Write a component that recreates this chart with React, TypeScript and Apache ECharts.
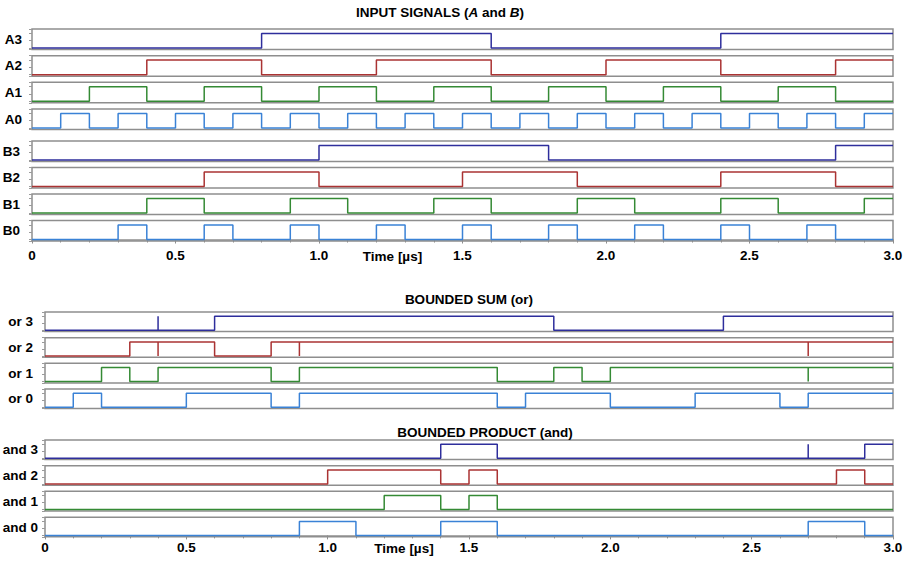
import React, { useEffect, useRef } from 'react';
import * as echarts from 'echarts';

// time step of the simulation (µs) and the tick labels
const STEP = 0.1;
const X_TICKS = [0, 0.5, 1.0, 1.5, 2.0, 2.5, 3.0];

// ---- input signals (one value per 0.1 µs step) ----
const A3 = [0,0,0,0,0,0,0,0,1,1,1,1,1,1,1,1,0,0,0,0,0,0,0,0,1,1,1,1,1,1];
const A2 = [0,0,0,0,1,1,1,1,0,0,0,0,1,1,1,1,0,0,0,0,1,1,1,1,0,0,0,0,1,1];
const A1 = [0,0,1,1,0,0,1,1,0,0,1,1,0,0,1,1,0,0,1,1,0,0,1,1,0,0,1,1,0,0];
const A0 = [0,1,0,1,0,1,0,1,0,1,0,1,0,1,0,1,0,1,0,1,0,1,0,1,0,1,0,1,0,1];
const B3 = [0,0,0,0,0,0,0,0,0,0,1,1,1,1,1,1,1,1,0,0,0,0,0,0,0,0,0,0,1,1];
const B2 = [0,0,0,0,0,0,1,1,1,1,0,0,0,0,0,1,1,1,1,0,0,0,0,0,1,1,1,1,0,0];
const B1 = [0,0,0,0,1,1,0,0,0,1,1,0,0,0,1,1,0,0,0,1,1,0,0,0,1,1,0,0,0,1];
const B0 = [0,0,0,1,0,0,1,0,0,1,0,0,1,0,0,1,0,0,1,0,0,1,0,0,1,0,0,1,0,0];

// ---- bounded sum (or) ----
const OR3 = [0,0,0,0,0,0,1,1,1,1,1,1,1,1,1,1,1,1,0,0,0,0,0,0,1,1,1,1,1,1];
const OR2 = [0,0,0,1,1,1,0,0,1,1,1,1,1,1,1,1,1,1,1,1,1,1,1,1,1,1,1,1,1,1];
const OR1 = [0,0,1,0,1,1,1,1,0,1,1,1,1,1,1,1,0,0,1,0,1,1,1,1,1,1,1,1,1,1];
const OR0 = [0,1,0,0,0,1,1,1,0,1,1,1,1,1,1,1,0,1,1,1,0,0,0,1,1,1,0,1,1,1];

// ---- bounded product (and) ----
const AND3 = [0,0,0,0,0,0,0,0,0,0,0,0,0,0,1,1,0,0,0,0,0,0,0,0,0,0,0,0,0,1];
const AND2 = [0,0,0,0,0,0,0,0,0,0,1,1,1,1,0,1,0,0,0,0,0,0,0,0,0,0,0,0,1,0];
const AND1 = [0,0,0,0,0,0,0,0,0,0,0,0,1,1,0,1,0,0,0,0,0,0,0,0,0,0,0,0,0,0];
const AND0 = [0,0,0,0,0,0,0,0,0,1,1,0,0,0,1,1,0,0,0,0,0,0,0,0,0,0,0,1,1,0];

// glitch spikes (step index where a transient spike appears)
const OR3_GLITCH = [4];
const OR2_GLITCH = [4, 9, 27];
const OR1_GLITCH = [27];
const AND3_GLITCH = [27];

const NAVY = '#2e2e9c';
const RED = '#aa3333';
const GREEN = '#348a34';
const BLUE = '#3a82d6';

const FONT = '"Liberation Sans", Arial, Helvetica, sans-serif';

function wave(bits: number[], glitches: number[] = []) {
  const pts: number[][] = [[0, bits[0]]];
  for (let k = 1; k < bits.length; k++) {
    const t = +(k * STEP).toFixed(3);
    pts.push([t, bits[k - 1]]);
    if (glitches.includes(k)) pts.push([t, 1 - bits[k - 1]]);
    pts.push([t, bits[k]]);
  }
  pts.push([+(bits.length * STEP).toFixed(3), bits[bits.length - 1]]);
  return pts;
}

type Row = {
  label: string; bits: number[]; glitch?: number[]; color: string;
  top: number; height: number; left: number; gap: number; axis?: 'top' | 'bottom';
};

const H1 = 20.5;
const H2 = 19.6;
const ROWS: Row[] = [
  { label: 'A3', bits: A3, color: NAVY, top: 29, height: H1, left: 32, gap: 10 },
  { label: 'A2', bits: A2, color: RED, top: 55.7, height: H1, left: 32, gap: 10 },
  { label: 'A1', bits: A1, color: GREEN, top: 82.3, height: H1, left: 32, gap: 10 },
  { label: 'A0', bits: A0, color: BLUE, top: 109, height: H1, left: 32, gap: 10 },
  { label: 'B3', bits: B3, color: NAVY, top: 141, height: H1, left: 32, gap: 12 },
  { label: 'B2', bits: B2, color: RED, top: 167.5, height: H1, left: 32, gap: 12 },
  { label: 'B1', bits: B1, color: GREEN, top: 194, height: H1, left: 32, gap: 12 },
  { label: 'B0', bits: B0, color: BLUE, top: 220.5, height: H1, left: 32, gap: 12, axis: 'top' },
  { label: 'or 3', bits: OR3, glitch: OR3_GLITCH, color: NAVY, top: 312, height: H2, left: 45, gap: 12 },
  { label: 'or 2', bits: OR2, glitch: OR2_GLITCH, color: RED, top: 337.7, height: H2, left: 45, gap: 12 },
  { label: 'or 1', bits: OR1, glitch: OR1_GLITCH, color: GREEN, top: 363.3, height: H2, left: 45, gap: 12 },
  { label: 'or 0', bits: OR0, color: BLUE, top: 389, height: H2, left: 45, gap: 12 },
  { label: 'and 3', bits: AND3, glitch: AND3_GLITCH, color: NAVY, top: 440, height: H2, left: 45, gap: 7 },
  { label: 'and 2', bits: AND2, color: RED, top: 465.7, height: H2, left: 45, gap: 7 },
  { label: 'and 1', bits: AND1, color: GREEN, top: 491.3, height: H2, left: 45, gap: 7 },
  { label: 'and 0', bits: AND0, color: BLUE, top: 517.2, height: H2, left: 45, gap: 7, axis: 'bottom' },
];

function buildOption() {
  const grid: any[] = [];
  const xAxis: any[] = [];
  const yAxis: any[] = [];
  const series: any[] = [];
  ROWS.forEach((r, i) => {
    grid.push({
      left: r.left, right: 17, top: r.top, height: r.height,
      containLabel: false, outerBoundsMode: 'none',
      show: true, borderColor: '#8e8e8e', borderWidth: 1.5, backgroundColor: '#fff',
    });
    const labeled = !!r.axis;
    const margin = r.axis === 'top' ? 7 : 4;
    xAxis.push({
      gridIndex: i, type: 'value', min: 0, max: 3, interval: 0.5,
      axisLine: { show: labeled, lineStyle: { color: '#8e8e8e', width: 1.5 } },
      axisTick: { show: labeled, length: 4, lineStyle: { color: '#8e8e8e' } },
      minorTick: { show: labeled, splitNumber: 5, length: 3, lineStyle: { color: '#8e8e8e' } },
      axisLabel: {
        show: labeled, margin,
        color: '#000', fontSize: 13.5, fontWeight: 'bold', fontFamily: FONT,
        formatter: (v: number) => (X_TICKS.includes(v) ? (v === 0 ? '0' : v.toFixed(1)) : ''),
      },
      splitLine: { show: false },
      name: labeled ? 'Time [µs]' : '',
      nameLocation: 'middle',
      nameGap: margin + 1,
      nameMoveOverlap: false,
      nameTextStyle: {
        color: '#000', fontSize: 13.5, fontWeight: 'bold', fontFamily: FONT,
        padding: r.axis === 'top' ? [0, 140, 0, 0] : [0, 130, 0, 0],
      },
    });
    yAxis.push({
      gridIndex: i, type: 'value', min: -0.1, max: 1.3, splitNumber: 3,
      axisLine: { show: false },
      axisTick: { show: true, length: 3, lineStyle: { color: '#9a9a9a' } },
      axisLabel: { show: false },
      splitLine: { show: false },
      name: r.label, nameLocation: 'middle', nameRotate: 0, nameGap: r.gap,
      nameMoveOverlap: false,
      nameTextStyle: { color: '#000', fontSize: 13.5, fontWeight: 'bold', fontFamily: FONT },
    });
    series.push({
      type: 'line', xAxisIndex: i, yAxisIndex: i, data: wave(r.bits, r.glitch),
      showSymbol: false, symbol: 'none', silent: true,
      lineStyle: { color: r.color, width: 1.5 }, itemStyle: { color: r.color },
    });
  });

  const titleStyle = { fontSize: 13.5, fontWeight: 'bold', fontFamily: FONT, fill: '#000' };
  const graphic = [
    {
      type: 'text', x: 440, y: 12,
      style: {
        text: '{b|INPUT SIGNALS (}{i|A}{b| and }{i|B}{b|)}',
        rich: {
          b: { fontSize: 13.5, fontWeight: 'bold', fontFamily: FONT, fill: '#000' },
          i: { fontSize: 13.5, fontWeight: 'bold', fontStyle: 'italic', fontFamily: FONT, fill: '#000' },
        },
        align: 'center', verticalAlign: 'middle',
      },
    },
    { type: 'text', x: 469, y: 299, style: { text: 'BOUNDED SUM (or)', ...titleStyle, align: 'center', verticalAlign: 'middle' } },
    { type: 'text', x: 485, y: 432, style: { text: 'BOUNDED PRODUCT (and)', ...titleStyle, align: 'center', verticalAlign: 'middle' } },
  ];

  return { animation: false, backgroundColor: '#fff', grid, xAxis, yAxis, series, graphic };
}

export default function App() {
  const ref = useRef<HTMLDivElement>(null);
  useEffect(() => {
    const chart = echarts.init(ref.current!, null, { renderer: 'svg' });
    chart.setOption(buildOption() as any);
    return () => chart.dispose();
  }, []);
  return <div ref={ref} style={{ position: 'fixed', left: 0, top: 0, width: 910, height: 561 }} />;
}
